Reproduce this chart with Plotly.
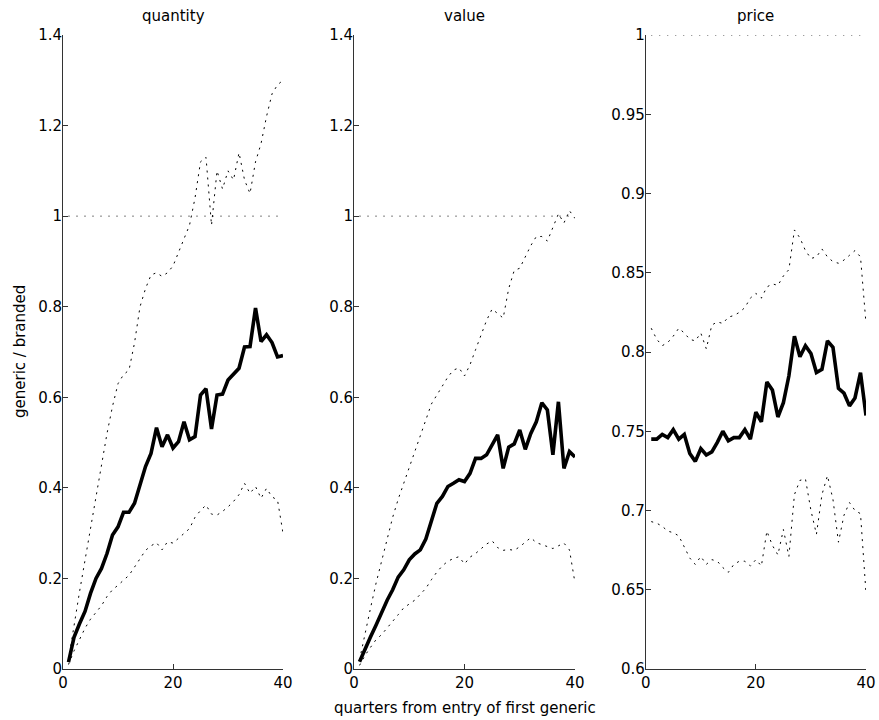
import plotly.graph_objects as go

quarters = list(range(1, 41))

quantity_mean = [0.015, 0.07, 0.10, 0.127, 0.167, 0.20, 0.222, 0.255, 0.296, 0.314,
                 0.346, 0.346, 0.366, 0.41, 0.447, 0.476, 0.533, 0.491, 0.517, 0.488,
                 0.502, 0.546, 0.506, 0.513, 0.605, 0.619, 0.530, 0.605, 0.607, 0.638,
                 0.650, 0.664, 0.711, 0.712, 0.797, 0.723, 0.738, 0.721, 0.689, 0.692]
quantity_upper = [0.02, 0.10, 0.17, 0.24, 0.31, 0.38, 0.45, 0.52, 0.58, 0.63,
                  0.65, 0.66, 0.72, 0.80, 0.84, 0.87, 0.875, 0.867, 0.875, 0.89,
                  0.92, 0.95, 0.98, 1.04, 1.12, 1.13, 0.98, 1.10, 1.06, 1.10,
                  1.08, 1.14, 1.08, 1.05, 1.12, 1.16, 1.22, 1.27, 1.29, 1.30]
quantity_lower = [0.01, 0.04, 0.065, 0.09, 0.11, 0.125, 0.14, 0.16, 0.175, 0.185,
                  0.197, 0.207, 0.225, 0.245, 0.262, 0.272, 0.279, 0.263, 0.281, 0.278,
                  0.288, 0.30, 0.31, 0.335, 0.35, 0.362, 0.342, 0.34, 0.348, 0.358,
                  0.37, 0.385, 0.41, 0.388, 0.403, 0.377, 0.399, 0.38, 0.373, 0.30]

value_mean = [0.016, 0.046, 0.071, 0.097, 0.127, 0.152, 0.175, 0.203, 0.219, 0.241,
              0.254, 0.263, 0.287, 0.329, 0.366, 0.381, 0.403, 0.41, 0.418, 0.414,
              0.432, 0.465, 0.465, 0.473, 0.495, 0.517, 0.443, 0.49, 0.497, 0.528,
              0.485, 0.52, 0.546, 0.588, 0.572, 0.473, 0.59, 0.443, 0.48, 0.468]
value_upper = [0.02, 0.08, 0.135, 0.19, 0.24, 0.285, 0.335, 0.375, 0.41, 0.45,
               0.48, 0.515, 0.55, 0.585, 0.605, 0.625, 0.645, 0.66, 0.665, 0.647,
               0.672, 0.705, 0.74, 0.77, 0.795, 0.785, 0.775, 0.84, 0.88, 0.885,
               0.91, 0.935, 0.955, 0.955, 0.945, 0.975, 1.005, 0.985, 1.012, 0.995]
value_lower = [0.008, 0.03, 0.048, 0.065, 0.076, 0.09, 0.105, 0.12, 0.135, 0.143,
               0.152, 0.165, 0.178, 0.197, 0.214, 0.228, 0.238, 0.244, 0.248, 0.232,
               0.247, 0.255, 0.265, 0.276, 0.283, 0.268, 0.262, 0.264, 0.262, 0.27,
               0.28, 0.29, 0.279, 0.275, 0.27, 0.266, 0.272, 0.278, 0.263, 0.19]

price_mean = [0.745, 0.745, 0.748, 0.746, 0.751, 0.745, 0.748, 0.736, 0.731, 0.739,
              0.735, 0.737, 0.743, 0.75, 0.744, 0.746, 0.746, 0.751, 0.745, 0.762,
              0.756, 0.781, 0.776, 0.759, 0.768, 0.785, 0.81, 0.797, 0.804, 0.799,
              0.787, 0.789, 0.807, 0.803, 0.777, 0.774, 0.766, 0.771, 0.787, 0.76]
price_upper = [0.815, 0.808, 0.804, 0.806, 0.81, 0.815, 0.812, 0.808, 0.807, 0.812,
               0.802, 0.817, 0.819, 0.818, 0.822, 0.823, 0.825, 0.828, 0.834, 0.837,
               0.834, 0.841, 0.843, 0.842, 0.848, 0.852, 0.877, 0.872, 0.864, 0.859,
               0.86, 0.865, 0.86, 0.857, 0.856, 0.858, 0.861, 0.864, 0.86, 0.818]
price_lower = [0.693, 0.692, 0.69, 0.687, 0.686, 0.684, 0.677, 0.67, 0.666, 0.671,
               0.666, 0.669, 0.668, 0.664, 0.661, 0.666, 0.668, 0.668, 0.665, 0.669,
               0.665, 0.687, 0.678, 0.672, 0.688, 0.671, 0.71, 0.719, 0.72, 0.70,
               0.685, 0.71, 0.722, 0.707, 0.68, 0.697, 0.705, 0.70, 0.698, 0.648]

panel_titles = ["quantity", "value", "price"]
reference_level = [1.0, 1.0]
reference_x = [1, 40]

FONT = "DejaVu Sans"
FS = 15
AX = "#333333"

fig = go.Figure()

panels = [
    (quantity_mean, quantity_upper, quantity_lower, "x", "y"),
    (value_mean, value_upper, value_lower, "x2", "y2"),
    (price_mean, price_upper, price_lower, "x3", "y3"),
]

for mean, up, lo, xa, ya in panels:
    fig.add_trace(go.Scatter(x=reference_x, y=reference_level, mode="lines",
                             line=dict(color="black", width=1, dash="1px,7px"),
                             xaxis=xa, yaxis=ya, showlegend=False, hoverinfo="skip",
                             cliponaxis=False))
    for s in (up, lo):
        fig.add_trace(go.Scatter(x=quarters, y=s, mode="lines",
                                 line=dict(color="black", width=1, dash="2px,5px"),
                                 xaxis=xa, yaxis=ya, showlegend=False))
    fig.add_trace(go.Scatter(x=quarters, y=mean, mode="lines",
                             line=dict(color="black", width=3.6),
                             xaxis=xa, yaxis=ya, showlegend=False))

domains = [[0.0, 0.274], [0.3624, 0.6376], [0.7257, 1.0]]

common_x = dict(range=[0, 40], tickvals=[0, 20, 40], showline=True, linecolor=AX,
                linewidth=1, ticks="inside", ticklen=5, tickcolor=AX, showgrid=False,
                zeroline=False, mirror=False, automargin=False,
                tickfont=dict(family=FONT, size=FS, color="black"))
common_y = dict(showline=True, linecolor=AX, linewidth=1, ticks="inside", ticklen=5,
                tickcolor=AX, showgrid=False, zeroline=False, mirror=False,
                ticklabelstandoff=-3, automargin=False,
                tickfont=dict(family=FONT, size=FS, color="black"))

fig.update_layout(
    template="none",
    width=879, height=720,
    margin=dict(l=63, r=13, t=35, b=51, pad=0, autoexpand=False),
    plot_bgcolor="white", paper_bgcolor="white",
    xaxis=dict(domain=domains[0], anchor="y", **common_x),
    xaxis2=dict(domain=domains[1], anchor="y2", **common_x),
    xaxis3=dict(domain=domains[2], anchor="y3", **common_x),
    yaxis=dict(anchor="x", range=[0, 1.4], dtick=0.2, tick0=0, **common_y),
    yaxis2=dict(anchor="x2", range=[0, 1.4], dtick=0.2, tick0=0, **common_y),
    yaxis3=dict(anchor="x3", range=[0.6, 1.0], dtick=0.05, tick0=0.6, **common_y),
    font=dict(family=FONT, size=FS, color="black"),
    showlegend=False,
)

annotations = []
for d, t in zip(domains, panel_titles):
    annotations.append(dict(text=t, x=(d[0] + d[1]) / 2, y=1, xref="paper", yref="paper",
                            xanchor="center", yanchor="bottom", yshift=8, showarrow=False,
                            font=dict(family=FONT, size=FS, color="black")))
annotations.append(dict(text="quarters from entry of first generic",
                        x=(domains[1][0] + domains[1][1]) / 2, y=0, xref="paper", yref="paper",
                        xanchor="center", yanchor="top", yshift=-28, showarrow=False,
                        font=dict(family=FONT, size=FS, color="black")))
annotations.append(dict(text="generic / branded", x=-43 / 803, y=0.5, xref="paper", yref="paper",
                        xanchor="center", yanchor="middle", textangle=-90, showarrow=False,
                        font=dict(family=FONT, size=FS, color="black")))
fig.update_layout(annotations=annotations)

fig.write_html("out.html", config={"displayModeBar": False},
               post_script="document.body.style.margin='0';document.body.style.overflow='hidden';")
